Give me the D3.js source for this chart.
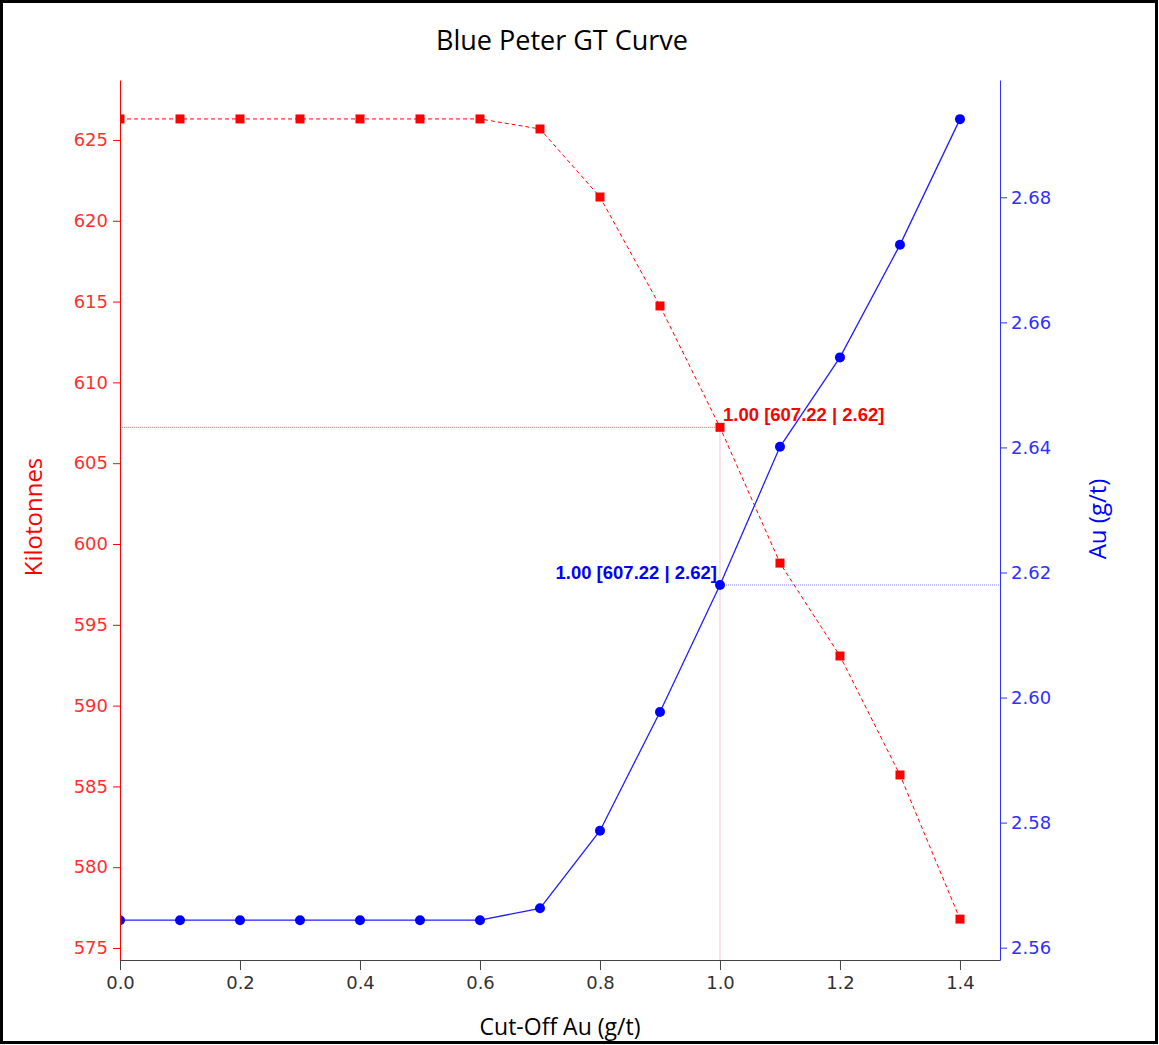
<!DOCTYPE html>
<html>
<head>
<meta charset="utf-8">
<script src="https://cdn.jsdelivr.net/npm/d3@7"></script>
<style>
  body { margin: 0; background: #fff; }
  svg { display: block; }
</style>
</head>
<body>
<svg id="chart" width="1159" height="1045"></svg>
<script>
// cut-off grades
var cutoffs = [0.0, 0.1, 0.2, 0.3, 0.4, 0.5, 0.6, 0.7, 0.8, 0.9, 1.0, 1.1, 1.2, 1.3, 1.4];
// tonnage above cut-off (kt)
var kilotonnes = [626.3, 626.3, 626.3, 626.3, 626.3, 626.3, 626.3, 625.68, 621.47, 614.73, 607.22, 598.82, 593.07, 585.71, 576.79];
// grade above cut-off (g/t)
var grades = [2.5644, 2.5644, 2.5644, 2.5644, 2.5644, 2.5644, 2.5644, 2.5663, 2.5787, 2.5977, 2.618, 2.6401, 2.6544, 2.6724, 2.6925];
var xTicks = [0.0, 0.2, 0.4, 0.6, 0.8, 1.0, 1.2, 1.4];
var leftTicks = [575, 580, 585, 590, 595, 600, 605, 610, 615, 620, 625];
var rightTicks = [2.56, 2.58, 2.60, 2.62, 2.64, 2.66, 2.68];
var marked = 1.0;

var svg = d3.select("#chart");
var pLeft = 120, pRight = 1000, pTop = 80, pBottom = 960;
var font = "DejaVu Sans, Verdana, sans-serif";

svg.append("rect")
  .attr("x", 1.5).attr("y", 1.5).attr("width", 1155).attr("height", 1041)
  .attr("fill", "none").attr("stroke", "#000").attr("stroke-width", 3);

// markers get cut at the plot edge like the original
svg.append("defs").append("clipPath").attr("id", "plotclip")
  .append("rect").attr("x", pLeft).attr("y", pTop).attr("width", pRight - pLeft).attr("height", pBottom - pTop);

var x = d3.scaleLinear().domain([0, 1.4667]).range([pLeft, pRight]);
var yL = d3.scaleLinear().domain([574.26, 628.71]).range([pBottom, pTop]);
var yR = d3.scaleLinear().domain([2.55803, 2.69876]).range([pBottom, pTop]);

// crosshair for the marked cut-off
var mi = cutoffs.indexOf(marked);
svg.append("line")
  .attr("x1", pLeft).attr("x2", x(marked)).attr("y1", yL(kilotonnes[mi])).attr("y2", yL(kilotonnes[mi]))
  .attr("stroke", "#ff8080").attr("stroke-width", 1).attr("stroke-dasharray", "1,1");
svg.append("line")
  .attr("x1", x(marked)).attr("x2", x(marked)).attr("y1", yL(kilotonnes[mi])).attr("y2", pBottom)
  .attr("stroke", "#e08aa8").attr("stroke-width", 1).attr("stroke-dasharray", "1,1");
svg.append("line")
  .attr("x1", x(marked)).attr("x2", pRight).attr("y1", yR(grades[mi])).attr("y2", yR(grades[mi]))
  .attr("stroke", "#8080ff").attr("stroke-width", 1).attr("stroke-dasharray", "1,1");

// curves
var plot = svg.append("g").attr("clip-path", "url(#plotclip)");

var lineL = d3.line().x(function(d, i) { return x(cutoffs[i]); }).y(function(d) { return yL(d); });
plot.append("path").datum(kilotonnes)
  .attr("d", lineL).attr("fill", "none").attr("stroke", "#ff0000")
  .attr("stroke-width", 1).attr("stroke-dasharray", "4,3");
plot.selectAll(".sq").data(kilotonnes).enter().append("rect")
  .attr("x", function(d, i) { return x(cutoffs[i]) - 4.5; })
  .attr("y", function(d) { return yL(d) - 4.5; })
  .attr("width", 9).attr("height", 9).attr("fill", "#ff0000");

var lineR = d3.line().x(function(d, i) { return x(cutoffs[i]); }).y(function(d) { return yR(d); });
plot.append("path").datum(grades)
  .attr("d", lineR).attr("fill", "none").attr("stroke", "#2020ff").attr("stroke-width", 1.3);
plot.selectAll(".dot").data(grades).enter().append("circle")
  .attr("cx", function(d, i) { return x(cutoffs[i]); })
  .attr("cy", function(d) { return yR(d); })
  .attr("r", 5).attr("fill", "#0000ff");

// axes
var gx = svg.append("g").attr("transform", "translate(0," + pBottom + ")")
  .call(d3.axisBottom(x).tickValues(xTicks).tickFormat(d3.format(".1f")).tickSize(10).tickSizeOuter(0).tickPadding(6));
gx.select(".domain").attr("stroke", "#444");
gx.selectAll(".tick line").attr("stroke", "#444");
gx.selectAll("text").attr("fill", "#333").style("font", "18px " + font);

var gl = svg.append("g").attr("transform", "translate(" + pLeft + ",0)")
  .call(d3.axisLeft(yL).tickValues(leftTicks).tickSize(7).tickSizeOuter(0).tickPadding(5));
gl.select(".domain").attr("stroke", "#ff0000");
gl.selectAll(".tick line").attr("stroke", "#ff0000");
gl.selectAll("text").attr("fill", "#ff3030").style("font", "18px " + font);

var gr = svg.append("g").attr("transform", "translate(" + pRight + ",0)")
  .call(d3.axisRight(yR).tickValues(rightTicks).tickFormat(d3.format(".2f")).tickSize(7).tickSizeOuter(0).tickPadding(4));
gr.select(".domain").attr("stroke", "#3030ff");
gr.selectAll(".tick line").attr("stroke", "#3030ff");
gr.selectAll("text").attr("fill", "#3030ff").style("font", "18px " + font);

// callouts
var label = d3.format(".2f")(marked) + " [" + d3.format(".2f")(kilotonnes[mi]) + " | " + d3.format(".2f")(grades[mi]) + "]";
svg.append("text").attr("x", x(marked) + 3).attr("y", yL(kilotonnes[mi]) - 6)
  .attr("fill", "#ff0000").style("font", "bold 18.5px Liberation Sans, Arial, sans-serif").text(label);
svg.append("text").attr("x", x(marked) - 3).attr("y", yR(grades[mi]) - 6)
  .attr("text-anchor", "end")
  .attr("fill", "#0000ff").style("font", "bold 18.5px Liberation Sans, Arial, sans-serif").text(label);

// titles
svg.append("text").attr("x", 562).attr("y", 50).attr("text-anchor", "middle")
  .attr("fill", "#000").style("font", "27px Open Sans, sans-serif").text("Blue Peter GT Curve");
svg.append("text").attr("x", 560).attr("y", 1035).attr("text-anchor", "middle")
  .attr("fill", "#000").style("font", "23px Open Sans, sans-serif").text("Cut-Off Au (g/t)");
svg.append("text").attr("transform", "translate(42,517) rotate(-90)").attr("text-anchor", "middle")
  .attr("fill", "#ff0000").style("font", "24px Open Sans, sans-serif").text("Kilotonnes");
svg.append("text").attr("transform", "translate(1106,519) rotate(-90)").attr("text-anchor", "middle")
  .attr("fill", "#0000ff").style("font", "24px Open Sans, sans-serif").text("Au (g/t)");
</script>
</body>
</html>
